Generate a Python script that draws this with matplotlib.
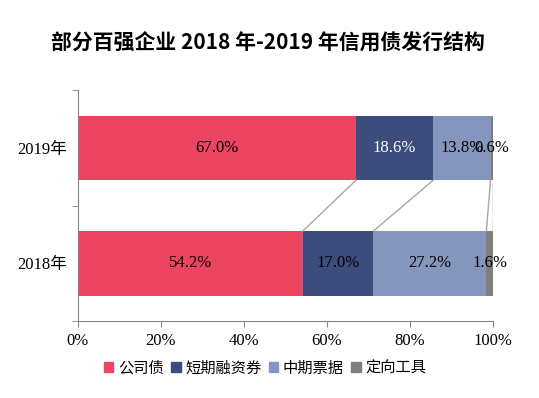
import numpy as np
import matplotlib.pyplot as plt
from matplotlib.patches import Patch

plt.rcParams['font.family'] = ['Liberation Serif', 'Noto Sans CJK SC']

# 数据
years = ['2018年', '2019年']
names = ['公司债', '短期融资券', '中期票据', '定向工具']
v2018 = [54.2, 17.0, 27.2, 1.6]
v2019 = [67.0, 18.6, 13.8, 0.6]
colors = ['#EB4562', '#3B4C7D', '#8496BE', '#7F7F7F']
txt_colors = [['black', 'black', 'black', 'black'],
              ['black', 'white', 'black', 'black']]

fig = plt.figure(figsize=(5.39, 3.98), dpi=100)
ax = fig.add_axes([0.1447, 0.1935, 0.77, 0.58])

data = np.array([v2018, v2019])
h = 0.56
left = np.zeros(2)
for i in range(4):
    ax.barh([0, 1], data[:, i], left=left, height=h, color=colors[i], label=names[i])
    for j in range(2):
        ax.text(left[j] + data[j, i] / 2, j, '%.1f%%' % data[j, i], ha='center', va='center',
                fontsize=12, color=txt_colors[j][i])
    left += data[:, i]

# 系列线
c18 = np.cumsum(v2018)
c19 = np.cumsum(v2019)
for a, b in zip(c19, c18):
    ax.plot([a, b], [1 - h / 2, h / 2], color='#A6A6A6', lw=1)

ax.set_xlim(0, 100)
ax.set_ylim(-0.5, 1.5)
ax.set_xticks(np.arange(0, 101, 20))
ax.set_xticklabels(['%d%%' % x for x in range(0, 101, 20)], fontsize=12)
ax.set_yticks([0, 1])
ax.set_yticklabels(years, fontsize=12)
ax.set_yticks([-0.5, 0.5, 1.5], minor=True)
ax.tick_params(axis='y', which='major', length=0, pad=8)
ax.tick_params(axis='y', which='minor', length=4, color='#868686')
ax.tick_params(axis='x', length=4, color='#868686', pad=5)
for s in ['top', 'right']:
    ax.spines[s].set_visible(False)
for s in ['left', 'bottom']:
    ax.spines[s].set_color('#868686')

fig.text(0.497, 0.892, '部分百强企业 2018 年-2019 年信用债发行结构', ha='center', va='center',
         fontsize=15, fontweight='bold', family=['Noto Sans CJK SC'])

handles = [Patch(color=c) for c in colors]
fig.legend(handles, names, loc='center', bbox_to_anchor=(0.492, 0.075), ncol=4, frameon=False,
           prop={'family': 'Noto Sans CJK SC', 'size': 11}, handlelength=0.6, handleheight=0.6,
           handletextpad=0.3, columnspacing=0.5)

fig.savefig('out.png', dpi=100)
